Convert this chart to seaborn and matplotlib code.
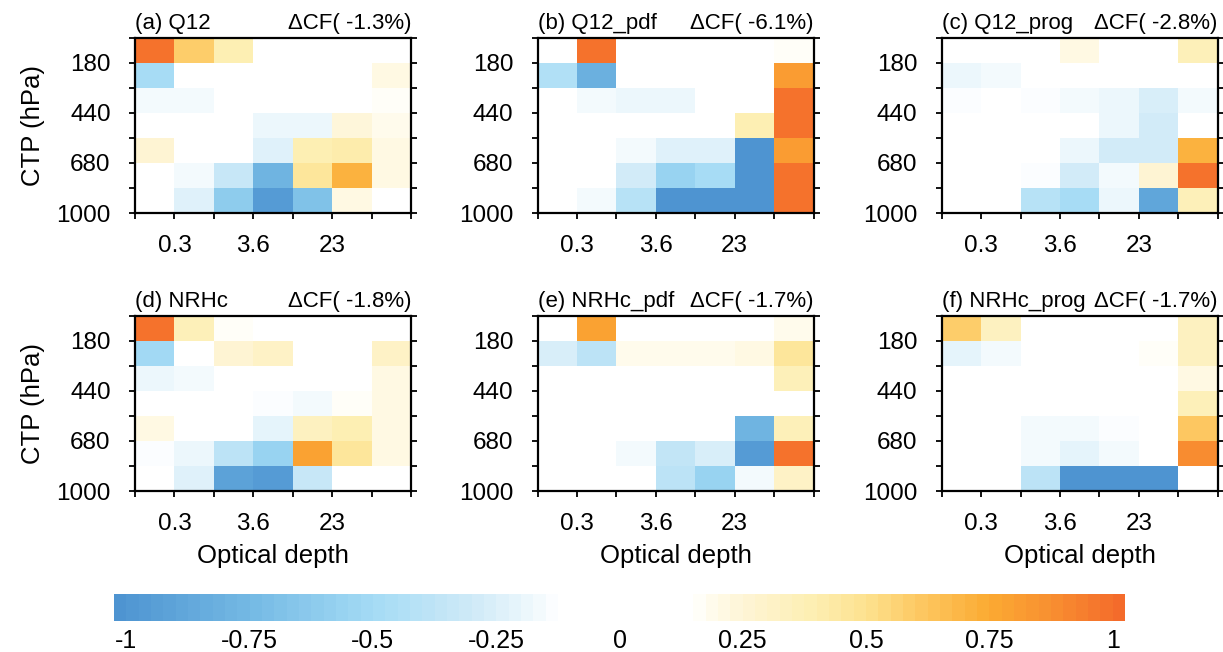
import numpy as np
import pandas as pd
import matplotlib
matplotlib.use("Agg")
import matplotlib.pyplot as plt
import seaborn as sns
from matplotlib.colors import ListedColormap, to_rgb

# ---------------- data ----------------
tau_edges = ["0", "0.3", "1.3", "3.6", "9.4", "23", "60", "380"]
ctp_edges = ["50", "180", "310", "440", "560", "680", "800", "1000"]
tau_shown = ["", "0.3", "", "3.6", "", "23", "", ""]
ctp_shown = ["", "180", "", "440", "", "680", "", "1000"]

panel_names = ["(a) Q12", "(b) Q12_pdf", "(c) Q12_prog",
               "(d) NRHc", "(e) NRHc_pdf", "(f) NRHc_prog"]
delta_cf = [-1.3, -6.1, -2.8, -1.8, -1.7, -1.7]

q12 = [
    [0.98, 0.58, 0.38, 0, 0, 0, 0],
    [-0.50, 0, 0, 0, 0, 0, 0.22],
    [-0.17, -0.17, 0, 0, 0, 0, 0.17],
    [0, 0, 0, -0.18, -0.18, 0.24, 0.18],
    [0.25, 0, 0, -0.25, 0.40, 0.42, 0.22],
    [0, -0.16, -0.35, -0.78, 0.45, 0.70, 0.20],
    [0, -0.24, -0.62, -0.95, -0.70, 0.20, 0],
]
q12_pdf = [
    [0, 0.98, 0, 0, 0, 0, 0.17],
    [-0.45, -0.82, 0, 0, 0, 0, 0.80],
    [0, -0.16, -0.20, -0.20, 0, 0, 0.98],
    [0, 0, 0, 0, 0, 0.38, 0.98],
    [0, 0, -0.17, -0.25, -0.25, -1.0, 0.80],
    [0, 0, -0.28, -0.55, -0.48, -1.0, 0.98],
    [0, -0.16, -0.42, -1.0, -1.0, -1.0, 0.98],
]
q12_prog = [
    [0, 0, 0, 0.20, 0, 0, 0.35],
    [-0.20, -0.16, 0, 0, 0, 0, 0],
    [-0.15, 0, -0.15, -0.17, -0.20, -0.27, -0.17],
    [0, 0, 0, 0, -0.18, -0.30, 0],
    [0, 0, 0, -0.18, -0.30, -0.30, 0.72],
    [0, 0, -0.15, -0.28, -0.17, 0.27, 0.98],
    [0, 0, -0.42, -0.50, -0.18, -0.88, 0.37],
]
nrhc = [
    [0.98, 0.35, 0.17, 0, 0, 0, 0],
    [-0.52, 0, 0.25, 0.30, 0, 0, 0.30],
    [-0.20, -0.17, 0, 0, 0, 0, 0.22],
    [0, 0, 0, -0.15, -0.17, 0.17, 0.22],
    [0.22, 0, 0, -0.22, 0.33, 0.40, 0.22],
    [-0.15, -0.18, -0.38, -0.55, 0.78, 0.45, 0.20],
    [0, -0.24, -0.92, -0.97, -0.33, 0, 0],
]
nrhc_pdf = [
    [0, 0.78, 0, 0, 0, 0, 0.18],
    [-0.27, -0.38, 0.18, 0.18, 0.18, 0.20, 0.45],
    [0, 0, 0, 0, 0, 0, 0.36],
    [0, 0, 0, 0, 0, 0, 0],
    [0, 0, 0, 0, 0, -0.78, 0.35],
    [0, 0, -0.16, -0.36, -0.27, -0.97, 0.98],
    [0, 0, 0, -0.38, -0.55, -0.16, 0.30],
]
nrhc_prog = [
    [0.58, 0.33, 0, 0, 0, 0, 0.33],
    [-0.22, -0.16, 0, 0, 0, 0.17, 0.33],
    [0, 0, 0, 0, 0, 0, 0.22],
    [0, 0, 0, 0, 0, 0, 0.35],
    [0, 0, -0.16, -0.16, -0.15, 0, 0.60],
    [0, 0, -0.16, -0.22, -0.16, 0, 0.88],
    [0, 0, -0.38, -1.0, -1.0, -1.0, 0],
]
panel_data = [q12, q12_pdf, q12_prog, nrhc, nrhc_pdf, nrhc_prog]

cbar_ticks = [-1, -0.75, -0.5, -0.25, 0, 0.25, 0.5, 0.75, 1]
cbar_labels = ["-1", "-0.75", "-0.5", "-0.25", "0", "0.25", "0.5", "0.75", "1"]

# ---------------- colormap ----------------
anchors = [
    (-1.0125, "#4e94d1"), (-0.75, "#74b9e4"), (-0.5, "#a4dbf5"),
    (-0.3, "#cfeaf7"), (-0.2, "#e8f5fb"), (-0.15, "#f6fbfe"),
    (-0.125, "#ffffff"), (0.15, "#ffffff"), (0.175, "#fffcf1"),
    (0.25, "#fef5d6"), (0.4, "#fdeeb0"), (0.5, "#fde28f"),
    (0.6, "#fdca65"), (0.75, "#fbaa32"), (0.875, "#f88f31"),
    (1.0125, "#f46b2b"),
]
step = 0.025
lo, hi = -1.025, 1.025
nbox = int(round((hi - lo) / step))
centers = lo + step * (np.arange(nbox) + 0.5)
av = np.array([a[0] for a in anchors])
ac = np.array([to_rgb(a[1]) for a in anchors])
cols = np.stack([np.interp(centers, av, ac[:, k]) for k in range(3)], axis=1)
cmap = ListedColormap(cols)

# ---------------- figure ----------------
sns.set_theme(style="ticks")
plt.rcParams["font.family"] = ["Liberation Sans", "DejaVu Sans"]
plt.rcParams["axes.linewidth"] = 1.6
plt.rcParams["text.color"] = "black"
plt.rcParams["axes.labelcolor"] = "black"
plt.rcParams["xtick.color"] = "black"
plt.rcParams["ytick.color"] = "black"

fig = plt.figure(figsize=(12.23, 6.52), dpi=100)
lefts = [0.1104, 0.4395, 0.7700]
bottoms = [0.6733, 0.2469]
w, h = 0.2257, 0.2690

for i, (name, dcf, data) in enumerate(zip(panel_names, delta_cf, panel_data)):
    r, c = divmod(i, 3)
    ax = fig.add_axes([lefts[c], bottoms[r], w, h])
    df = pd.DataFrame(data, index=ctp_edges[1:], columns=tau_edges[1:])
    sns.heatmap(df, ax=ax, cmap=cmap, vmin=lo, vmax=hi, cbar=False,
                xticklabels=False, yticklabels=False)
    for s in ax.spines.values():
        s.set_visible(True)
        s.set_linewidth(1.6)
        s.set_color("black")
    ax.set_xticks(np.arange(8))
    ax.set_xticklabels(tau_shown)
    ax.set_yticks(np.arange(8))
    ax.set_yticklabels(ctp_shown, rotation=0)
    ax.tick_params(axis="x", bottom=True, top=False, direction="out",
                   length=4.5, width=1.3, labelsize=17.5, pad=11, colors="black")
    ax.tick_params(axis="y", left=True, right=True, direction="out",
                   length=4.5, width=1.3, labelsize=17.5, pad=13, colors="black")
    ax.set_xlabel("Optical depth" if r == 1 else "", fontsize=18.5, labelpad=7,
                  color="black")
    ax.set_ylabel("CTP (hPa)" if c == 0 else "", fontsize=18.5, labelpad=8,
                  color="black")
    ax.set_title(name, loc="left", fontsize=16, pad=6, color="black")
    ax.set_title("\u0394CF( %.1f%%)" % dcf, loc="right", fontsize=16, pad=6,
                 color="black")

# ---------------- colorbar ----------------
cax = fig.add_axes([0.0932, 0.0475, 0.8267, 0.0414])
sm = matplotlib.cm.ScalarMappable(norm=matplotlib.colors.Normalize(lo, hi), cmap=cmap)
cb = fig.colorbar(sm, cax=cax, orientation="horizontal")
cb.outline.set_visible(False)
cb.set_ticks(cbar_ticks)
cb.set_ticklabels(cbar_labels)
cax.tick_params(length=0, labelsize=18, pad=6, colors="black")

fig.savefig("out.png", dpi=100)
